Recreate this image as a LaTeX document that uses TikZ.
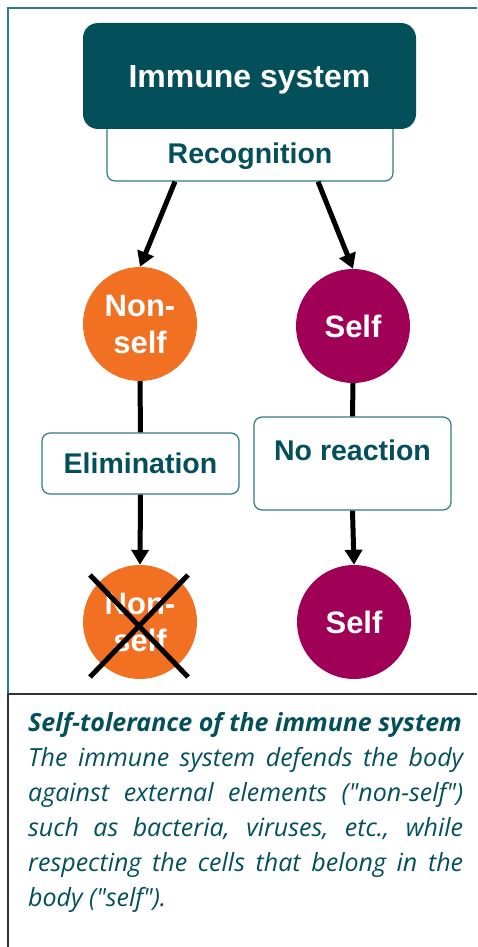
\documentclass[tikz,border=0pt]{standalone}
\usepackage{xcolor}
\usepackage{fontspec}
\setmainfont{Liberation Sans}
\newfontfamily\capfont{Open Sans}
\usetikzlibrary{arrows.meta}

\definecolor{immteal}{HTML}{03505A}
\definecolor{edgeteal}{HTML}{2F7B84}
\definecolor{nsorange}{HTML}{F27022}
\definecolor{selfpurple}{HTML}{A10057}
\definecolor{rulegray}{HTML}{333333}

\begin{document}
\begin{tikzpicture}[
        x=1pt, y=-1pt,
        headbox/.style={rectangle, fill=immteal, text=white, minimum width=333pt, minimum height=106pt, text depth=0pt, rounded corners=15pt, font=\fontsize{32}{38}\selectfont\bfseries},
        stepbox/.style={rectangle, draw=edgeteal, fill=white, line width=1.2pt, text=immteal, rounded corners=8pt, inner ysep=0pt, font=\fontsize{28.5}{34}\selectfont\bfseries},
        cell/.style={circle, minimum size=114pt, inner sep=0pt, text=white, align=center, font=\fontsize{31}{37}\selectfont\bfseries},
        nonselfcell/.style={cell, fill=nsorange},
        selfcell/.style={cell, fill=selfpurple},
        arrow/.style={-{Triangle[width=17pt,length=15pt]}, line width=5pt, black},
        link/.style={line width=5pt, black},
        cross/.style={line width=5pt, black}
    ]
        \useasboundingbox (0,0) rectangle (477,947);

        % ========== FRAME ==========
        \draw[edgeteal, line width=1.5pt] (8,694) -- (8,8) -- (477,8);
        \draw[rulegray, line width=1.5pt] (8,947) -- (8,694) -- (477,694);

        % ========== TOP ==========
        \node[stepbox, minimum width=286pt, text height=48pt, text depth=18pt] (recog) at (250,148) {Recognition};
        \node[headbox] (immune) at (249.5,76) {Immune system};

        % ========== CELLS ==========
        \node[nonselfcell] (nonself) at (140,324) {Non-\\self};
        \node[selfcell] (self) at (353,326) {Self};

        \node[stepbox, minimum width=197pt, minimum height=61pt] (elim) at (140.5,463.5) {Elimination};
        \node[stepbox, minimum width=197pt, text height=43pt, text depth=50pt] (noreact) at (352.5,463.5) {No reaction};

        \node[nonselfcell] (gone) at (140,622) {Non-\\self};
        \node[selfcell] (kept) at (354,622) {Self};

        % ========== ARROWS ==========
        \draw[arrow] ([xshift=-75pt]recog.south) -- (nonself.north);
        \draw[arrow] ([xshift=68pt]recog.south) -- (self.north);

        \draw[link] (nonself.south) -- (elim.north);
        \draw[arrow] (elim.south) -- (gone.north);

        \draw[link] (self.south) -- (noreact.north);
        \draw[arrow] (noreact.south) -- (kept.north);

        % crossed out
        \draw[cross] ([shift={(-50,-47)}]gone.center) -- ([shift={(48,55)}]gone.center);
        \draw[cross] ([shift={(48,-47)}]gone.center) -- ([shift={(-50,55)}]gone.center);

        % ========== CAPTION ==========
        \node[anchor=north west, inner sep=0pt, text width=435pt, align=justify, text=immteal, font=\capfont\itshape\fontsize{25}{35}\selectfont] (caption) at (28,712) {%
            {\bfseries Self-tolerance of the immune system}\par
            The immune system defends the body\linebreak
            against external elements ("non-self")\linebreak
            such as bacteria, viruses, etc., while\linebreak
            respecting the cells that belong in the\linebreak
            body ("self").};

\end{tikzpicture}
\end{document}
